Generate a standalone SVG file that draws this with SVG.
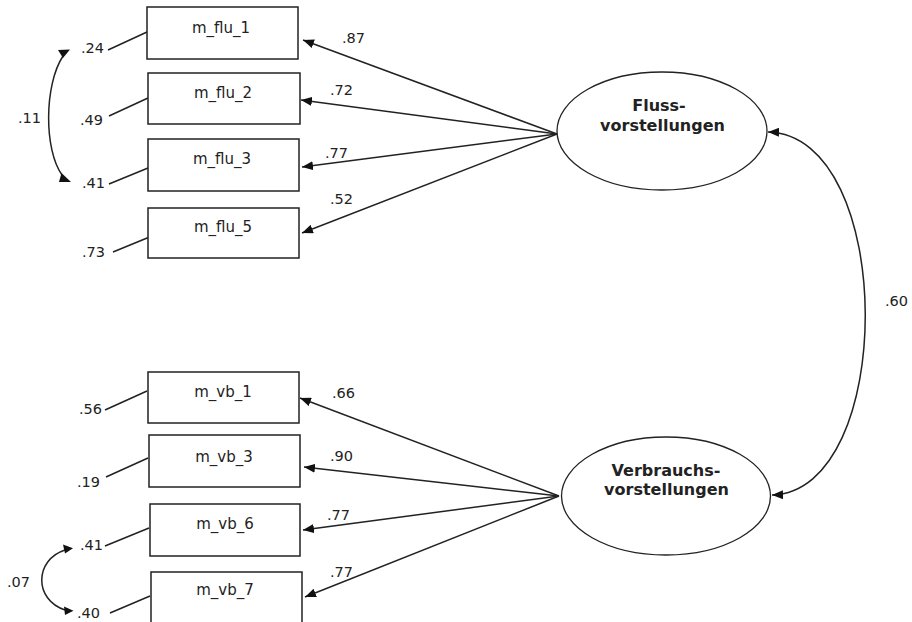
<svg xmlns="http://www.w3.org/2000/svg" width="912" height="622" viewBox="0 0 912 622">
<defs>
<style>
.box{fill:#fff;stroke:#222;stroke-width:1.5}
.ell{fill:#fff;stroke:#222;stroke-width:1.3}
.ln{fill:none;stroke:#222;stroke-width:1.5}
.t{font-family:"DejaVu Sans",Verdana,sans-serif;font-size:14.5px;fill:#222}
.bt{font-family:"DejaVu Sans",Verdana,sans-serif;font-size:15px;fill:#222;text-anchor:middle}
.lt{font-family:"DejaVu Sans",Tahoma,sans-serif;font-size:16px;font-weight:bold;fill:#222;text-anchor:middle}
.ah{fill:#111}
</style>
<marker id="arr" viewBox="0 0 11 9" refX="11" refY="4.5" markerWidth="11" markerHeight="9" markerUnits="userSpaceOnUse" orient="auto-start-reverse">
<path d="M0,0 L11,4.5 L0,9 z" fill="#111"/>
</marker>
</defs>
<rect width="912" height="622" fill="#fff"/>

<g id="connectors">
<path class="ln" d="M557,134 L303,40" marker-end="url(#arr)"/>
<path class="ln" d="M557,134 L301,100" marker-end="url(#arr)"/>
<path class="ln" d="M557,134 L302,167" marker-end="url(#arr)"/>
<path class="ln" d="M557,134 L302,233" marker-end="url(#arr)"/>
<path class="ln" d="M559,496 L300,398" marker-end="url(#arr)"/>
<path class="ln" d="M559,496 L304,467" marker-end="url(#arr)"/>
<path class="ln" d="M559,496 L303,530" marker-end="url(#arr)"/>
<path class="ln" d="M559,496 L305,597" marker-end="url(#arr)"/>
<path class="ln" d="M768,132 C897,135 897,492 772,495" marker-start="url(#arr)" marker-end="url(#arr)"/>
<path class="ln" d="M108,50 L147,32"/>
<path class="ln" d="M109,116 L148,98"/>
<path class="ln" d="M109,184 L148,168"/>
<path class="ln" d="M113,252 L152,236"/>
<path class="ln" d="M105,410 L147,391"/>
<path class="ln" d="M106,477 L148,458"/>
<path class="ln" d="M105,546 L149,528"/>
<path class="ln" d="M110,613 L150,596"/>
<path class="ln" d="M63,56 C44,85 44,150 62,175"/>
<polygon class="ah" points="58,50 70,49.5 63,58"/>
<polygon class="ah" points="61.5,173 59,182 71,182"/>
<path class="ln" d="M65,550 C34,560 34,600 65,610"/>
<polygon class="ah" points="63,544.5 65,553.5 73,548.3"/>
<polygon class="ah" points="64,606.5 65,615 73.5,610.7"/>
</g>

<g id="labels">
<text class="t" x="342" y="43">.87</text>
<text class="t" x="330" y="95">.72</text>
<text class="t" x="325" y="158">.77</text>
<text class="t" x="330" y="204">.52</text>
<text class="t" x="332" y="398">.66</text>
<text class="t" x="330" y="461">.90</text>
<text class="t" x="327" y="520">.77</text>
<text class="t" x="330" y="577">.77</text>
<text class="t" x="885" y="306">.60</text>
<text class="t" x="81" y="53">.24</text>
<text class="t" x="80" y="125">.49</text>
<text class="t" x="82" y="188">.41</text>
<text class="t" x="82" y="257">.73</text>
<text class="t" x="18" y="123">.11</text>
<text class="t" x="79" y="414">.56</text>
<text class="t" x="77" y="487">.19</text>
<text class="t" x="80" y="550">.41</text>
<text class="t" x="77" y="618">.40</text>
<text class="t" x="7" y="587">.07</text>
</g>

<g id="m_flu_1"><rect class="box" x="147" y="7" width="151" height="52"/><text class="bt" x="221" y="33">m_flu_1</text></g>
<g id="m_flu_2"><rect class="box" x="148" y="73" width="152" height="51"/><text class="bt" x="223" y="98">m_flu_2</text></g>
<g id="m_flu_3"><rect class="box" x="148" y="139" width="151" height="52"/><text class="bt" x="222" y="164">m_flu_3</text></g>
<g id="m_flu_5"><rect class="box" x="148" y="208" width="151" height="50"/><text class="bt" x="223" y="232">m_flu_5</text></g>
<g id="m_vb_1"><rect class="box" x="148" y="372" width="151" height="51"/><text class="bt" x="223" y="397">m_vb_1</text></g>
<g id="m_vb_3"><rect class="box" x="149" y="435" width="151" height="52"/><text class="bt" x="224" y="462">m_vb_3</text></g>
<g id="m_vb_6"><rect class="box" x="150" y="504" width="150" height="52"/><text class="bt" x="225" y="529">m_vb_6</text></g>
<g id="m_vb_7"><rect class="box" x="151" y="572" width="151" height="54"/><text class="bt" x="225" y="595">m_vb_7</text></g>

<g id="fluss"><ellipse class="ell" cx="662" cy="131" rx="105" ry="59"/><text class="lt" x="659" y="111">Fluss-</text><text class="lt" x="662.5" y="131">vorstellungen</text></g>
<g id="verbrauch"><ellipse class="ell" cx="666" cy="496" rx="104.5" ry="59"/><text class="lt" x="666" y="476">Verbrauchs-</text><text class="lt" x="666.5" y="495">vorstellungen</text></g>
</svg>
